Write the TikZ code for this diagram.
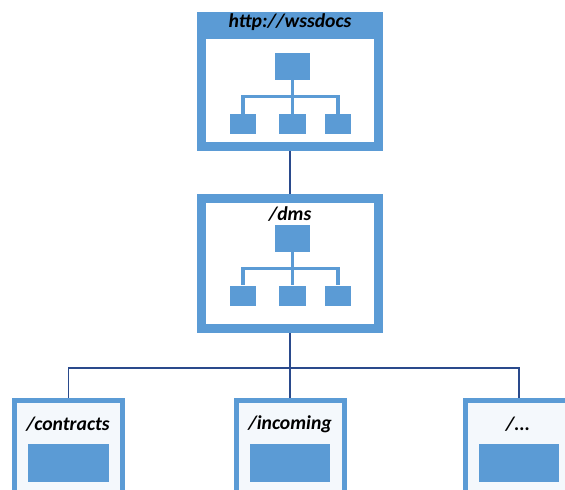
\documentclass[tikz,border=0pt]{standalone}
\usepackage{fontspec}
\setmainfont{Carlito}
\usepackage{xcolor}
\usetikzlibrary{shadows}
\definecolor{boxblue}{HTML}{5B9BD5}
\definecolor{linkblue}{HTML}{2A4A8C}
\tikzset{
    frame/.style={draw=boxblue, fill=white, rectangle, line width=0.225cm, minimum width=4.425cm, minimum height=3.25cm,
        drop shadow={shadow xshift=0.6pt, shadow yshift=-2.5pt, opacity=0.2, fill=boxblue}},
    subframe/.style={draw=boxblue, fill=boxblue!7, rectangle, line width=0.125cm, minimum width=2.7cm, minimum height=2.5cm,
        drop shadow={shadow xshift=0.8pt, shadow yshift=0pt, opacity=0.2, fill=boxblue}},
    rootbox/.style={fill=boxblue, rectangle, inner sep=0pt, minimum width=0.875cm, minimum height=0.675cm},
    kidbox/.style={fill=boxblue, rectangle, inner sep=0pt, minimum width=0.66cm, minimum height=0.5cm},
    pagebox/.style={fill=boxblue, rectangle, inner sep=0pt, minimum width=2.02cm, minimum height=0.97cm},
    label/.style={font=\fontsize{14}{16}\selectfont\bfseries\itshape, inner sep=0pt},
    tree/.style={draw=boxblue, line width=2.2pt},
    link/.style={draw=linkblue, line width=1.1pt}
}
\begin{document}
\begin{tikzpicture}
    \clip (0,0) rectangle (14.125,-12.25);

    % site collection
    \node[frame] (wssdocs) at (7.25,-2.0375) {};
    \node[fill=boxblue, rectangle, inner sep=0pt, minimum width=4.65cm, minimum height=0.675cm] (wssdocshead) at (7.25,-0.6375) {};
    \node[label] (wssdocstext) at (7.25,-0.56) {http://wssdocs};
    \node[rootbox] (root1) at (7.31,-1.6625) {};
    \foreach \x/\n in {6.075/a, 7.31/b, 8.45/c} {
        \node[kidbox] (kid1\n) at (\x,-3.1) {};
        \draw[tree] (root1.south) -- ++(0,-0.4) -| (kid1\n.north);
    }

    % sub site
    \node[frame] (dms) at (7.25,-6.5875) {};
    \node[label] (dmstext) at (7.25,-5.35) {/dms};
    \node[rootbox] (root2) at (7.31,-5.9625) {};
    \foreach \x/\n in {6.075/a, 7.31/b, 8.45/c} {
        \node[kidbox] (kid2\n) at (\x,-7.3875) {};
        \draw[tree] (root2.south) -- ++(0,-0.4) -| (kid2\n.north);
    }

    % document libraries
    \node[subframe] (contracts) at (1.7125,-11.25) {};
    \node[subframe] (incoming) at (7.25,-11.25) {};
    \node[subframe] (more) at (12.975,-11.25) {};
    \node[label] (contractstext) at (1.7,-10.6) {/contracts};
    \node[label] (incomingtext) at (7.25,-10.6) {/incoming};
    \node[label] (moretext) at (12.95,-10.6) {/...};
    \node[pagebox] (contractsbox) at (1.72,-11.575) {};
    \node[pagebox] (incomingbox) at (7.25,-11.575) {};
    \node[pagebox] (morebox) at (12.975,-11.575) {};

    % links
    \draw[link] (wssdocs.south) -- (dms.north);
    \draw[link] (dms.south) -- (incoming.north);
    \draw[link] (dms.south) -- ++(0,-0.875) coordinate (fork) -| (contracts.north);
    \draw[link] (fork) -| (more.north);
\end{tikzpicture}
\end{document}
